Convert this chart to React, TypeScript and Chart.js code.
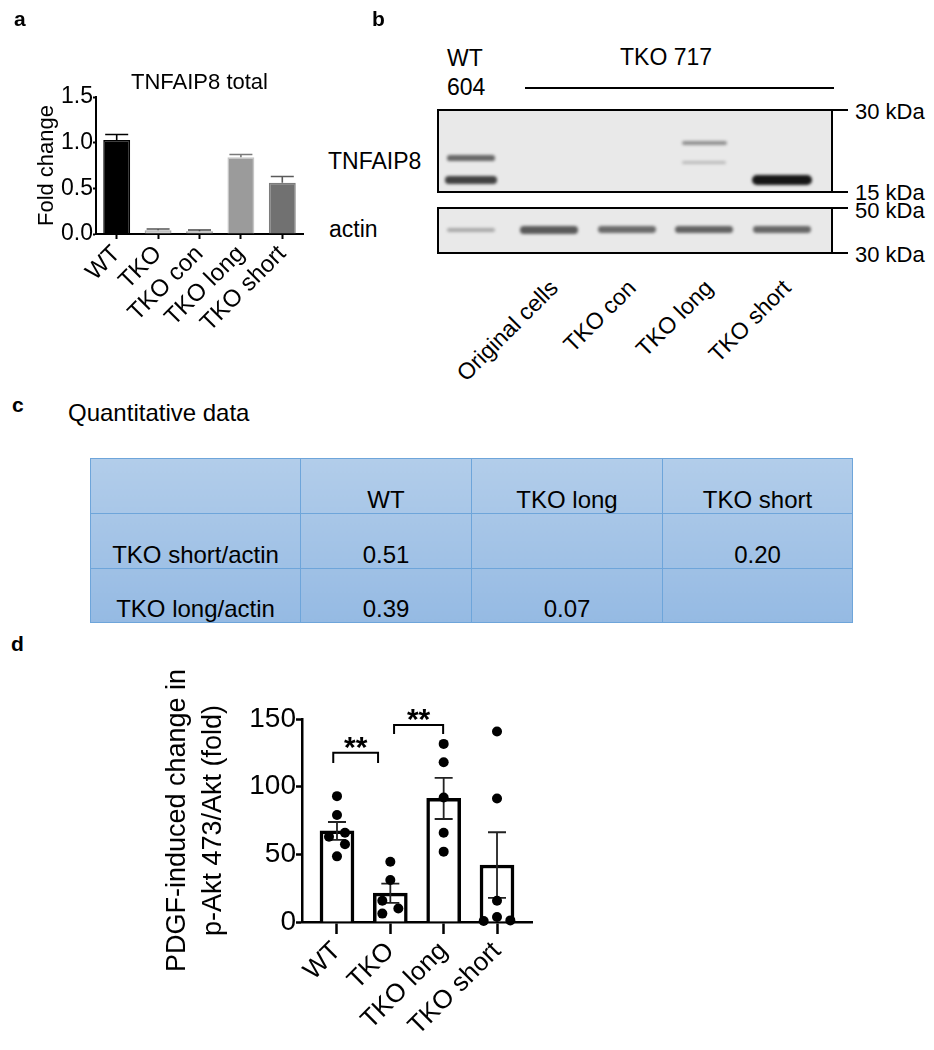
import React, { useEffect, useRef } from 'react';
import { Chart, registerables } from 'chart.js';
Chart.register(...registerables);

const FONT = "'Liberation Sans', Arial, Helvetica, sans-serif";

// ---------- Panel a data ----------
const catsA = ['WT', 'TKO', 'TKO con', 'TKO long', 'TKO short'];
const meanA = [1.03, 0.04, 0.03, 0.84, 0.56];
const semA = [0.06, 0.015, 0.013, 0.03, 0.07];
const fillA = ['#000000', '#cfcfcf', '#bdbdbd', '#9b9b9b', '#717171'];
const edgeA = ['#000000', '#a9a9a9', '#9f9f9f', '#c6c6c6', '#7c7c7c'];
const errColA = ['#000000', '#555555', '#444444', '#7a7a7a', '#5a5a5a'];
const yTicksA = [0, 0.5, 1.0, 1.5];

// ---------- Panel b data (western blot) ----------
const laneLabelsB = ['', 'Original cells', 'TKO con', 'TKO long', 'TKO short'];
const tnfMarkers = [30, 15];
const actinMarkers = [50, 30];
const tnfBandLane = [0, 0, 3, 3, 4];
const tnfBandKDa = [20.0, 16.6, 22.7, 19.2, 16.6];
const tnfBandInt = [0.62, 0.8, 0.42, 0.22, 1.0];
const actinKDa = 39;
const actinInt = [0.3, 0.68, 0.6, 0.64, 0.62];

// ---------- Panel c data ----------
const tableCols = ['', 'WT', 'TKO long', 'TKO short'];
const tableRows = ['TKO short/actin', 'TKO long/actin'];
const tableValues = [
  ['0.51', '', '0.20'],
  ['0.39', '0.07', ''],
];

// ---------- Panel d data ----------
const catsD = ['WT', 'TKO', 'TKO long', 'TKO short'];
const meanD = [67.3, 21.3, 91.3, 42.1];
const semD = [6.6, 7.1, 15.2, 24.2];
const dotsWT = [93, 79, 63, 66, 57.5, 48.5];
const jitWT = [0, 0, -0.15, 0.15, 0.15, 0];
const dotsTKO = [44.5, 31, 15.7, 10, 6.2];
const jitTKO = [0, 0, -0.15, 0.15, -0.15];
const dotsLong = [131.6, 118, 92, 66, 52];
const jitLong = [0, 0, 0, 0, 0];
const dotsShort = [140.8, 91.3, 15.7, 3.7, 0.7, 1.2];
const jitShort = [0, 0, 0, 0, -0.25, 0.25];
const yTicksD = [0, 50, 100, 150];
const sigFrom = [-0.07, 1.07];
const sigTo = [0.77, 1.99];
const sigTop = [125, 145.5];
const sigLeg = [117.5, 139];
const sigText = ['**', '**'];

const dotSets = [dotsWT, dotsTKO, dotsLong, dotsShort];
const jitSets = [jitWT, jitTKO, jitLong, jitShort];
const dotsAll = dotSets.flatMap((vals, i) => vals.map((v, j) => ({ x: i + jitSets[i][j], y: v })));

const errA = {
  id: 'errA',
  afterDatasetDraw(chart: any, args: any) {
    if (args.index !== 0) return;
    const { ctx } = chart;
    const y = chart.scales.y;
    const meta = chart.getDatasetMeta(0);
    meta.data.forEach((bar: any, i: number) => {
      const x = bar.x;
      const y0 = y.getPixelForValue(meanA[i]);
      const y1 = y.getPixelForValue(meanA[i] + semA[i]);
      ctx.save();
      ctx.strokeStyle = errColA[i];
      ctx.lineWidth = 1.6;
      ctx.beginPath();
      ctx.moveTo(x, y0);
      ctx.lineTo(x, y1);
      ctx.moveTo(x - 11.5, y1);
      ctx.lineTo(x + 11.5, y1);
      ctx.stroke();
      ctx.restore();
    });
  },
};

const errD = {
  id: 'errD',
  afterDatasetDraw(chart: any, args: any) {
    if (args.index !== 0) return;
    const { ctx } = chart;
    const x = chart.scales.x;
    const y = chart.scales.y;
    ctx.save();
    ctx.strokeStyle = '#222';
    ctx.lineWidth = 1.8;
    meanD.forEach((m, i) => {
      const px = x.getPixelForValue(i);
      const lo = y.getPixelForValue(m - semD[i]);
      const hi = y.getPixelForValue(m + semD[i]);
      ctx.beginPath();
      ctx.moveTo(px, lo);
      ctx.lineTo(px, hi);
      ctx.moveTo(px - 9, lo);
      ctx.lineTo(px + 9, lo);
      ctx.moveTo(px - 9, hi);
      ctx.lineTo(px + 9, hi);
      ctx.stroke();
    });
    ctx.restore();
  },
};

const sigD = {
  id: 'sigD',
  afterDraw(chart: any) {
    const { ctx } = chart;
    const x = chart.scales.x;
    const y = chart.scales.y;
    ctx.save();
    ctx.strokeStyle = '#000';
    ctx.fillStyle = '#000';
    ctx.lineWidth = 2;
    sigFrom.forEach((f, i) => {
      const x1 = x.getPixelForValue(f);
      const x2 = x.getPixelForValue(sigTo[i]);
      const yt = y.getPixelForValue(sigTop[i]);
      const yl = y.getPixelForValue(sigLeg[i]);
      ctx.beginPath();
      ctx.moveTo(x1, yl);
      ctx.lineTo(x1, yt);
      ctx.lineTo(x2, yt);
      ctx.lineTo(x2, yl);
      ctx.stroke();
      ctx.font = `bold 30px ${FONT}`;
      ctx.textAlign = 'center';
      ctx.textBaseline = 'alphabetic';
      ctx.fillText(sigText[i], (x1 + x2) / 2, yt + 4);
    });
    ctx.restore();
  },
};

function makeCfgA(): any {
  return {
    type: 'bar',
    data: {
      labels: catsA,
      datasets: [
        {
          data: meanA,
          backgroundColor: fillA,
          borderColor: edgeA,
          borderWidth: 1.5,
          borderSkipped: 'start',
          barPercentage: 0.65,
          categoryPercentage: 1,
        },
      ],
    },
    options: {
      responsive: false,
      animation: false,
      events: [],
      layout: { padding: { left: 0, top: 60, right: 17, bottom: 0 } },
      plugins: {
        legend: { display: false },
        tooltip: { enabled: false },
        title: {
          display: true,
          text: 'TNFAIP8 total',
          color: '#000',
          font: { size: 22, weight: 'normal', family: FONT },
          padding: { top: 9.8, bottom: 0.8 },
          fullSize: false,
        },
      },
      scales: {
        x: {
          ticks: { font: { size: 24, family: FONT }, color: '#000', minRotation: 45, maxRotation: 45, autoSkip: false, padding: 1 },
          grid: { offset: false, drawOnChartArea: false, drawTicks: true, tickLength: 5, tickWidth: 2, tickColor: '#000' },
          border: { display: true, color: '#000', width: 2 },
          afterFit: (s: any) => { s.height = 106; },
        },
        y: {
          min: 0,
          max: 1.5,
          afterBuildTicks: (s: any) => { s.ticks = yTicksA.map((v) => ({ value: v })); },
          ticks: { callback: (v: any) => Number(v).toFixed(1), font: { size: 23, family: FONT }, color: '#000', padding: 0 },
          grid: { drawOnChartArea: false, drawTicks: true, tickLength: 3, tickWidth: 2, tickColor: '#000' },
          border: { display: true, color: '#000', width: 2 },
          title: { display: true, text: 'Fold change', color: '#000', font: { size: 22, family: FONT }, padding: { top: 34, bottom: 0 } },
          afterFit: (s: any) => { s.width = 96; },
        },
      },
    },
    plugins: [errA],
  };
}

function makeCfgD(): any {
  return {
    type: 'bar',
    data: {
      datasets: [
        {
          type: 'bar',
          data: catsD.map((_, i) => ({ x: i, y: meanD[i] })),
          backgroundColor: '#ffffff',
          borderColor: '#000000',
          borderWidth: 3.5,
          borderSkipped: 'start',
          barThickness: 34,
          order: 2,
        },
        {
          type: 'scatter',
          data: dotsAll,
          backgroundColor: '#000',
          borderColor: '#000',
          pointRadius: 5,
          borderWidth: 0,
          clip: false,
          order: 1,
        },
      ],
    },
    options: {
      responsive: false,
      animation: false,
      events: [],
      layout: { padding: { left: 0, top: 79, right: 18, bottom: 0 } },
      plugins: { legend: { display: false }, tooltip: { enabled: false } },
      scales: {
        x: {
          type: 'linear',
          offset: false,
          min: -0.656,
          max: 3.656,
          afterBuildTicks: (s: any) => { s.ticks = catsD.map((_, i) => ({ value: i })); },
          ticks: {
            callback: (v: any) => catsD[v] ?? '',
            font: { size: 26, family: FONT },
            color: '#000',
            minRotation: 45,
            maxRotation: 45,
            autoSkip: false,
            padding: 2,
          },
          grid: { offset: false, drawOnChartArea: false, drawTicks: true, tickLength: 12, tickWidth: 2.5, tickColor: '#000' },
          border: { display: true, color: '#000', width: 2.5 },
          afterFit: (s: any) => { s.height = 128; },
        },
        y: {
          min: 0,
          max: 150,
          afterBuildTicks: (s: any) => { s.ticks = yTicksD.map((v) => ({ value: v })); },
          ticks: { font: { size: 28, family: FONT }, color: '#000', padding: 0 },
          grid: { drawOnChartArea: false, drawTicks: true, tickLength: 6, tickWidth: 2.5, tickColor: '#000' },
          border: { display: true, color: '#000', width: 2.5 },
          title: {
            display: true,
            text: ['PDGF-induced change in', 'p-Akt 473/Akt (fold)'],
            color: '#000',
            font: { size: 27, family: FONT, lineHeight: 1.333 },
            padding: { top: 10, bottom: 0 },
          },
          afterFit: (s: any) => { s.width = 152; },
        },
      },
    },
    plugins: [errD, sigD],
  };
}

function Txt(props: { x: number; y: number; size: number; bold?: boolean; children: any }) {
  const { x, y, size, bold, children } = props;
  return (
    <div
      style={{
        position: 'absolute',
        left: x,
        top: y - size / 2,
        fontSize: size,
        lineHeight: `${size}px`,
        fontWeight: bold ? 'bold' : 'normal',
        fontFamily: FONT,
        whiteSpace: 'nowrap',
        color: '#000',
      }}
    >
      {children}
    </div>
  );
}

// blot geometry (styles / layout)
const BLOT_L = 437;
const BLOT_W = 396;
const B1_TOP = 109;
const B1_H = 84;
const B2_TOP = 207;
const B2_H = 47;
const laneX = (i: number) => 471 + 77.75 * i;
const kdaToY = (k: number, top: number, h: number, hiK: number, loK: number) =>
  top + 1 + (h - 2) * (Math.log(hiK / k) / Math.log(hiK / loK));

function Band(props: { cx: number; cy: number; w: number; h: number; a: number }) {
  const { cx, cy, w, h, a } = props;
  return (
    <div
      style={{
        position: 'absolute',
        left: cx - w / 2,
        top: cy - h / 2,
        width: w,
        height: h,
        borderRadius: h / 2,
        background: `rgba(22,22,22,${a})`,
        filter: 'blur(1.4px)',
      }}
    />
  );
}

function Blot() {
  const items: any[] = [];
  items.push(
    <div key="b1" style={{ position: 'absolute', left: BLOT_L, top: B1_TOP, width: BLOT_W, height: B1_H, boxSizing: 'border-box', border: '2px solid #000', background: '#e9e9e9' }} />
  );
  items.push(
    <div key="b2" style={{ position: 'absolute', left: BLOT_L, top: B2_TOP, width: BLOT_W, height: B2_H, boxSizing: 'border-box', border: '2px solid #000', background: '#e9e9e9' }} />
  );
  tnfBandLane.forEach((lane, i) => {
    const a = tnfBandInt[i];
    const cy = kdaToY(tnfBandKDa[i], B1_TOP, B1_H, tnfMarkers[0], tnfMarkers[1]);
    items.push(<Band key={'t' + i} cx={laneX(lane)} cy={cy} w={44 + 16 * a * a * a} h={3 + 7 * a * a} a={a} />);
  });
  actinInt.forEach((a, i) => {
    const cy = kdaToY(actinKDa, B2_TOP, B2_H, actinMarkers[0], actinMarkers[1]);
    items.push(<Band key={'a' + i} cx={laneX(i)} cy={cy} w={a < 0.4 ? 48 : 58} h={2 + 8 * a} a={a} />);
  });
  const markers = [
    { k: tnfMarkers[0], y: B1_TOP + 1 },
    { k: tnfMarkers[1], y: B1_TOP + B1_H - 1 },
    { k: actinMarkers[0], y: B2_TOP + 1 },
    { k: actinMarkers[1], y: B2_TOP + B2_H - 1 },
  ];
  const labelDy = [2, 1, 3, 2];
  markers.forEach((m, i) => {
    items.push(<div key={'m' + i} style={{ position: 'absolute', left: BLOT_L + BLOT_W, top: m.y - 1, width: 15, height: 2, background: '#000' }} />);
    items.push(<Txt key={'ml' + i} x={855} y={m.y + labelDy[i]} size={22}>{`${m.k} kDa`}</Txt>);
  });
  laneLabelsB.forEach((t, i) => {
    if (!t) return;
    items.push(
      <div
        key={'ll' + i}
        style={{
          position: 'absolute',
          left: laneX(i) + 5,
          top: 284,
          transform: 'translate(-100%, -50%) rotate(-45deg)',
          transformOrigin: '100% 50%',
          fontSize: 23,
          lineHeight: '23px',
          fontFamily: FONT,
          whiteSpace: 'nowrap',
          color: '#000',
        }}
      >
        {t}
      </div>
    );
  });
  return <>{items}</>;
}

function Table() {
  const colW = [210, 171, 191, 190];
  const rowH = [55, 55, 54];
  const cell: any = {
    border: '1.5px solid #6ea5da',
    textAlign: 'center',
    verticalAlign: 'bottom',
    padding: '0 0 1px 0',
    lineHeight: '24px',
  };
  return (
    <table
      style={{
        position: 'absolute',
        left: 90,
        top: 458,
        width: 762,
        height: 164,
        borderCollapse: 'collapse',
        background: 'linear-gradient(#b2cdea, #95bae3)',
        fontFamily: FONT,
        fontSize: 24,
        color: '#000',
        tableLayout: 'fixed',
      }}
    >
      <colgroup>
        {colW.map((w, i) => (
          <col key={i} style={{ width: w }} />
        ))}
      </colgroup>
      <tbody>
        <tr style={{ height: rowH[0] }}>
          {tableCols.map((c, i) => (
            <td key={i} style={cell}>{c}</td>
          ))}
        </tr>
        {tableRows.map((r, ri) => (
          <tr key={ri} style={{ height: rowH[ri + 1] }}>
            <td style={cell}>{r}</td>
            {tableValues[ri].map((v, vi) => (
              <td key={vi} style={cell}>{v}</td>
            ))}
          </tr>
        ))}
      </tbody>
    </table>
  );
}

export default function App() {
  const refA = useRef<HTMLCanvasElement>(null);
  const refD = useRef<HTMLCanvasElement>(null);
  useEffect(() => {
    Chart.defaults.font.family = FONT;
    Chart.defaults.color = '#000';
    const a = new Chart(refA.current as HTMLCanvasElement, makeCfgA());
    const d = new Chart(refD.current as HTMLCanvasElement, makeCfgD());
    return () => {
      a.destroy();
      d.destroy();
    };
  }, []);
  return (
    <div style={{ position: 'absolute', left: 0, top: 0, width: 934, height: 1050, background: '#fff', fontFamily: FONT, overflow: 'hidden' }}>
      <canvas ref={refA} width={320} height={340} style={{ position: 'absolute', left: 0, top: 0, width: 320, height: 340 }} />
      <canvas ref={refD} width={400} height={410} style={{ position: 'absolute', left: 150, top: 640, width: 400, height: 410 }} />

      <Txt x={14} y={18} size={21} bold>a</Txt>
      <Txt x={372} y={18} size={21} bold>b</Txt>
      <Txt x={12} y={404} size={21} bold>c</Txt>
      <Txt x={11} y={643} size={21} bold>d</Txt>

      <Txt x={447} y={58} size={23}>WT</Txt>
      <Txt x={447} y={87} size={23}>604</Txt>
      <Txt x={620} y={57} size={23}>TKO 717</Txt>
      <div style={{ position: 'absolute', left: 525, top: 87, width: 309, height: 2, background: '#000' }} />
      <Txt x={328} y={161} size={23}>TNFAIP8</Txt>
      <Txt x={329} y={229} size={23}>actin</Txt>
      <Blot />

      <Txt x={68} y={413} size={24}>Quantitative data</Txt>
      <Table />
    </div>
  );
}
